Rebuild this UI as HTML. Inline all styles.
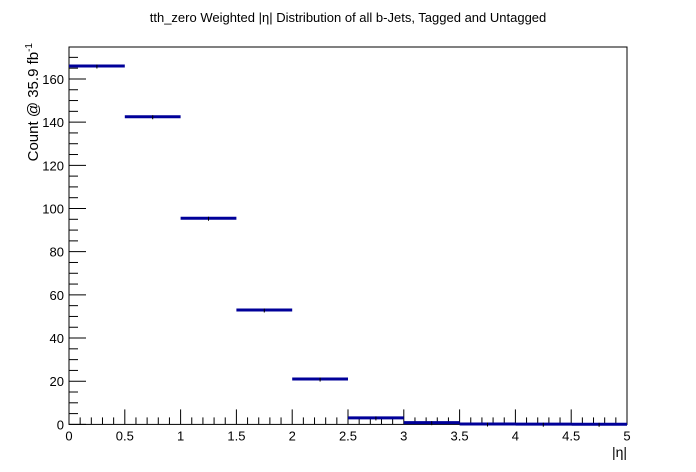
<!DOCTYPE html>
<html><head><meta charset="utf-8"><style>
body{margin:0;background:#fff}
svg{display:block;font-family:"Liberation Sans",Arial,sans-serif}
</style></head><body>
<svg id="c" width="696" height="472"></svg>
<script>
const binEdges=[0,0.5,1,1.5,2,2.5,3,3.5,4,4.5,5];
const counts=[166,142.5,95.5,53,21,3,0.8,0.2,0.1,0.05];
const xTicks=[0,0.5,1,1.5,2,2.5,3,3.5,4,4.5,5];
const xTickLabels=["0","0.5","1","1.5","2","2.5","3","3.5","4","4.5","5"];
const yTicks=[0,20,40,60,80,100,120,140,160];
const NS="http://www.w3.org/2000/svg";
const svg=document.getElementById('c');
const X0=69,X1=627,Y0=424.4,YT=47,xmax=5,ymax=174.8;
const sx=v=>X0+(v/xmax)*(X1-X0);
const sy=v=>Y0-(v/ymax)*(Y0-YT);
function mk(t,a,txt){const e=document.createElementNS(NS,t);for(const k in a)e.setAttribute(k,a[k]);if(txt!=null)e.textContent=txt;svg.appendChild(e);return e;}
let e;
e=mk('rect',{x:X0,y:YT,width:X1-X0,height:Y0-YT,fill:'none',stroke:'#000','stroke-width':1});


for(let v=0;v<=5.0001;v+=0.1){const maj=Math.abs(v*2-Math.round(v*2))<1e-6;
 e=mk('line',{x1:sx(v),x2:sx(v),y1:Y0,y2:Y0-(maj?15:7),stroke:'#000'});
 
 }
xTicks.forEach((v,i)=>{e=mk('text',{x:sx(v),y:Y0+16,'font-size':13,'text-anchor':'middle'},xTickLabels[i]);
 
 });
for(let v=0;v<=ymax;v+=5){const maj=v%20===0;
 e=mk('line',{x1:X0,x2:X0+(maj?17:9),y1:sy(v),y2:sy(v),stroke:'#000'});
 
 }
yTicks.forEach(v=>{e=mk('text',{x:X0-5,y:sy(v)+5,'font-size':13,'text-anchor':'end'},String(v));
 
 });
counts.forEach((c,i)=>{e=mk('line',{x1:sx(binEdges[i]),x2:sx(binEdges[i+1]),y1:sy(c),y2:sy(c),stroke:'#000099','stroke-width':3});
 
 
 const m=(binEdges[i]+binEdges[i+1])/2;
 e=mk('line',{x1:sx(m),x2:sx(m),y1:sy(c)-1.5,y2:sy(c)+2.5,stroke:'#000','stroke-width':1});
 
 });
e=mk('text',{x:348,y:22,'font-size':13,'text-anchor':'middle'},'tth_zero Weighted |η| Distribution of all b-Jets, Tagged and Untagged');


e=mk('text',{x:0,y:0,'font-size':15,'text-anchor':'end',transform:'translate(38,43) rotate(-90)'});
e.innerHTML='Count @ 35.9 fb<tspan dy="-6" font-size="10">-1</tspan>';


e=mk('text',{x:627,y:457,'font-size':14,'text-anchor':'end'},'|η|');


</script>
</body></html>
